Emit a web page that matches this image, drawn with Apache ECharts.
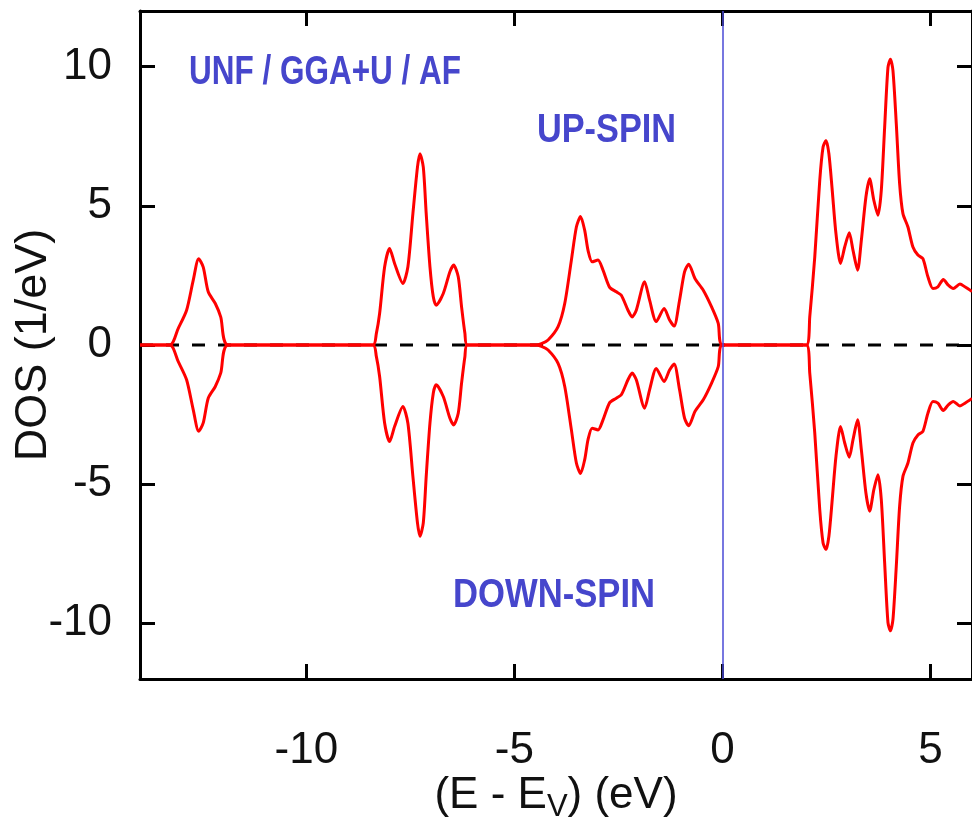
<!DOCTYPE html>
<html>
<head>
<meta charset="utf-8">
<script src="https://cdn.jsdelivr.net/npm/echarts@6/dist/echarts.min.js"></script>
<style>
  html, body { margin: 0; padding: 0; background: #fff; }
  #chart { width: 972px; height: 822px; }
</style>
</head>
<body>
<div id="chart"></div>
<script>
  const energy = [
    -14, -13.28, -13.08, -12.88, -12.72, -12.59, -12.48, -12.36, -12.19, -12.06, -11.88,
    -8.40, -8.32, -8.24, -8.12, -8.0, -7.88, -7.68, -7.56, -7.44, -7.33, -7.27, -7.19, -7.12,
    -7.03, -6.95, -6.88, -6.71, -6.55, -6.46, -6.35, -6.27, -6.19, -6.13,
    -4.5, -4.35, -4.19, -3.95, -3.79, -3.63, -3.51, -3.41, -3.31, -3.23, -3.13, -2.99, -2.87,
    -2.71, -2.55, -2.43, -2.27, -2.17, -2.07, -1.87, -1.75, -1.59, -1.40, -1.27, -1.16, -1.03,
    -0.91, -0.81, -0.66, -0.46, -0.26, -0.10, 0,
    2.02, 2.10, 2.22, 2.34, 2.42, 2.49, 2.56, 2.64, 2.73, 2.84, 2.94, 3.05, 3.14, 3.25, 3.34,
    3.45, 3.54, 3.64, 3.74, 3.82, 3.90, 3.98, 4.04, 4.10, 4.18, 4.26, 4.34, 4.46, 4.58, 4.70,
    4.82, 4.94, 5.06, 5.18, 5.31, 5.43, 5.55, 5.71, 5.83, 6.0
  ]
  // up-spin DOS (1/eV)
  const upDos = [
    0, 0, 0.6, 1.25, 2.33, 3.1, 2.8, 1.91, 1.49, 1.01, 0,
    0, 0.4, 1.13, 2.8, 3.47, 2.93, 2.21, 2.81, 4.72, 6.39, 6.87, 6.39, 4.72,
    2.81, 1.73, 1.43, 1.85, 2.63, 2.87, 2.45, 1.37, 0.42, 0,
    0, 0.05, 0.18, 0.66, 1.49, 3.05, 4.24, 4.62, 4.12, 3.4, 2.99, 3.05, 2.69,
    2.07, 1.91, 1.79, 1.25, 1.01, 1.25, 2.27, 1.61, 0.84, 1.31, 0.9, 0.68, 1.61,
    2.63, 2.9, 2.39, 1.97, 1.37, 0.78, 0,
    0, 1.01, 3.16, 5.91, 7.11, 7.35, 6.87, 5.56, 4.0, 2.93, 3.52, 4.03, 3.4, 2.69, 3.76,
    5.32, 5.97, 5.2, 4.66, 5.56, 7.82, 9.97, 10.27, 9.86, 7.95, 5.8, 4.72, 4.24, 3.52, 3.23,
    3.1, 2.45, 2.03, 2.09, 2.35, 2.15, 2.03, 2.19, 2.09, 1.92
  ]
  // down-spin DOS (1/eV)
  const downDos = [
    0, 0, -0.6, -1.25, -2.33, -3.1, -2.8, -1.91, -1.49, -1.01, 0,
    0, -0.4, -1.13, -2.8, -3.47, -2.93, -2.21, -2.81, -4.72, -6.39, -6.87, -6.39, -4.72,
    -2.81, -1.73, -1.43, -1.85, -2.63, -2.87, -2.45, -1.37, -0.42, 0,
    0, -0.05, -0.18, -0.66, -1.49, -3.05, -4.24, -4.62, -4.12, -3.4, -2.99, -3.05, -2.69,
    -2.07, -1.91, -1.79, -1.25, -1.01, -1.25, -2.27, -1.61, -0.84, -1.31, -0.9, -0.68, -1.61,
    -2.63, -2.9, -2.39, -1.97, -1.37, -0.78, 0,
    0, -1.01, -3.16, -5.91, -7.11, -7.35, -6.87, -5.56, -4.0, -2.93, -3.52, -4.03, -3.4, -2.69, -3.76,
    -5.32, -5.97, -5.2, -4.66, -5.56, -7.82, -9.97, -10.27, -9.86, -7.95, -5.8, -4.72, -4.24, -3.52, -3.23,
    -3.1, -2.45, -2.03, -2.09, -2.35, -2.15, -2.03, -2.19, -2.09, -1.92
  ]
  const xTicks = [-10, -5, 0, 5]
  const yTicks = [-10, -5, 0, 5, 10]
  const xRange = [-14, 6]
  const yRange = [-12, 12]
  const fermi = 0

  const chart = echarts.init(document.getElementById('chart'), null, { renderer: 'canvas' })

  const labelFont = 'Liberation Sans, Arial, sans-serif'
  const blue = '#4646cc'
  const fs = 44

  const tick = (vals) => ({ show: true, inside: true, length: 15, lineStyle: { color: '#000', width: 3 }, customValues: vals })

  // one axis config, used for the frame on all four sides
  function frameAxis(extra) {
    return Object.assign({
      type: 'value',
      axisLine: { show: true, onZero: false, lineStyle: { color: '#000', width: 3 } },
      axisLabel: { show: false },
      splitLine: { show: false }
    }, extra)
  }

  const pairs = (ys) => energy.map((e, i) => [e, ys[i]])

  // annotation text, squeezed to look like the narrow bold font of the picture
  const note = (text, left, top, sx) => ({
    type: 'text', left: left, top: top, scaleX: sx,
    style: { text: text, fill: blue, font: 'bold 40px ' + labelFont }
  })

  const option = {
    animation: false,
    backgroundColor: '#fff',
    grid: { left: 140, right: 0, top: 11, bottom: 143, outerBoundsMode: 'none' },
    xAxis: [
      frameAxis({
        min: xRange[0], max: xRange[1], position: 'bottom',
        name: '(E - E{sub|V}) (eV)', nameLocation: 'middle', nameGap: 90, nameMoveOverlap: false,
        nameTextStyle: {
          color: '#111', fontFamily: labelFont, fontSize: fs, lineHeight: 54,
          rich: { sub: { fontFamily: labelFont, fontSize: 31, lineHeight: 31, verticalAlign: 'bottom', color: '#111' } }
        },
        axisLabel: { show: true, color: '#111', fontFamily: labelFont, fontSize: fs, margin: 50, customValues: xTicks },
        axisTick: tick(xTicks)
      }),
      frameAxis({ min: xRange[0], max: xRange[1], position: 'top', axisTick: tick(xTicks) })
    ],
    yAxis: [
      frameAxis({
        min: yRange[0], max: yRange[1], position: 'left',
        name: 'DOS (1/eV)', nameLocation: 'middle', nameGap: 84, nameRotate: 90, nameMoveOverlap: false,
        nameTextStyle: { color: '#111', fontFamily: labelFont, fontSize: 45 },
        axisLabel: { show: true, color: '#111', fontFamily: labelFont, fontSize: fs, margin: 28, customValues: yTicks },
        axisTick: tick(yTicks)
      }),
      frameAxis({ min: yRange[0], max: yRange[1], position: 'right', axisTick: tick(yTicks) })
    ],
    series: [
      {
        // dashed zero line + blue line at E_V
        type: 'line',
        data: [[xRange[0], 0], [xRange[1], 0]],
        symbol: 'none',
        lineStyle: { color: '#000', width: 3, type: [13, 13] },
        z: 1,
        markLine: {
          silent: true,
          symbol: 'none',
          label: { show: false },
          lineStyle: { color: '#4a4ad6', width: 1.5, type: 'solid' },
          data: [{ xAxis: fermi }],
          z: 3
        }
      },
      {
        name: 'up',
        type: 'line',
        data: pairs(upDos),
        symbol: 'none',
        smooth: 0.25,
        lineStyle: { color: '#ff0000', width: 3 },
        z: 2
      },
      {
        name: 'down',
        type: 'line',
        data: pairs(downDos),
        symbol: 'none',
        smooth: 0.25,
        lineStyle: { color: '#ff0000', width: 3 },
        z: 2
      }
    ],
    graphic: [
      note('UNF / GGA+U / AF', 189, 53, 0.787),
      note('UP-SPIN', 537, 111, 0.857),
      note('DOWN-SPIN', 453, 576, 0.866)
    ]
  }

  chart.setOption(option)
</script>
</body>
</html>
